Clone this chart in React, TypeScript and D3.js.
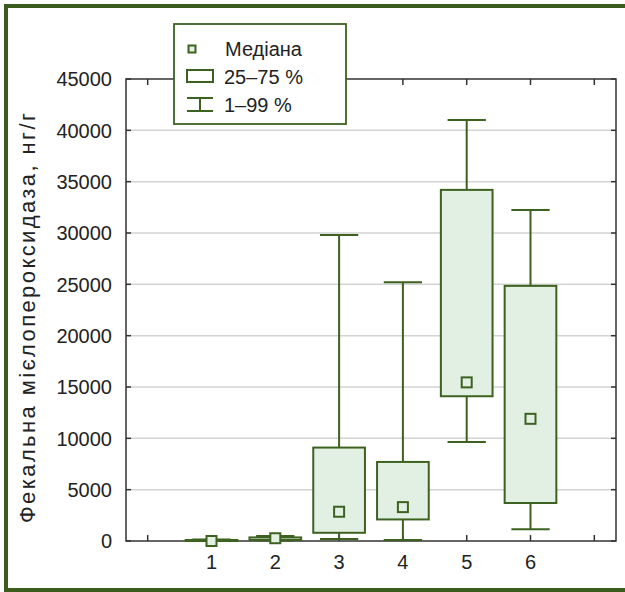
import React from "react";
import * as d3 from "d3";

// box plot data
const categories = ["1", "2", "3", "4", "5", "6"];
const p1 = [0, 40, 200, 100, 9650, 1150];
const q1 = [0, 100, 800, 2100, 14100, 3700];
const median = [0, 270, 2850, 3300, 15450, 11900];
const q3 = [100, 350, 9100, 7700, 34200, 24850];
const p99 = [150, 480, 29800, 25200, 41000, 32250];
const yTicks = [0, 5000, 10000, 15000, 20000, 25000, 30000, 35000, 40000, 45000];
const xTicks = [0, 1, 2, 3, 4, 5, 6, 7];
const legendLabels = ["Медіана", "25–75 %", "1–99 %"];

const W = 625;
const H = 592;
const margin = { left: 126, right: 9, top: 79, bottom: 51 };
const green = "#3d6220";
const fill = "#e2f0e4";
const font = "'Liberation Sans', Arial, sans-serif";

export default function App() {
  const x = d3
    .scaleLinear()
    .domain([-0.34, 7.34])
    .range([margin.left, W - margin.right]);
  const y = d3
    .scaleLinear()
    .domain([0, 45000])
    .range([H - margin.bottom, margin.top]);

  const x0 = x.range()[0];
  const x1 = x.range()[1];
  const y0 = y.range()[0];
  const y1 = y.range()[1];
  const boxW = 0.81 * (x(1) - x(0));
  const capW = 0.6 * (x(1) - x(0));

  return (
    <div style={{ position: "absolute", left: 0, top: 0 }}>
      <svg width={W} height={H} style={{ display: "block", background: "#fff" }}>
        {/* outer frame */}
        <rect x={6} y={6} width={720} height={584} fill="none" stroke="#3a5c1c" strokeWidth={4} />

        {/* grid */}
        {yTicks.slice(1, -1).map((t) => (
          <line key={"g" + t} x1={x0} x2={x1} y1={y(t)} y2={y(t)} stroke="#d3d3d3" strokeWidth={1.5} />
        ))}

        {/* axes box */}
        <rect x={x0} y={y1} width={x1 - x0} height={y0 - y1} fill="none" stroke="#333" strokeWidth={1.5} />
        {yTicks.map((t) => (
          <g key={"yt" + t}>
            <line x1={x0} x2={x0 + 5} y1={y(t)} y2={y(t)} stroke="#333" strokeWidth={1.5} />
            <line x1={x1 - 5} x2={x1} y1={y(t)} y2={y(t)} stroke="#333" strokeWidth={1.5} />
            <text x={112} y={y(t)} dy="0.36em" textAnchor="end" fontSize={20} fontFamily={font} fill="#222">
              {t}
            </text>
          </g>
        ))}
        {xTicks.map((t) => (
          <g key={"xt" + t}>
            <line x1={x(t)} x2={x(t)} y1={y0} y2={y0 - 6} stroke="#333" strokeWidth={1.5} />
            <line x1={x(t)} x2={x(t)} y1={y1} y2={y1 + 6} stroke="#333" strokeWidth={1.5} />
          </g>
        ))}
        {categories.map((c, i) => (
          <text key={"xl" + c} x={x(i + 1)} y={569} textAnchor="middle" fontSize={20} fontFamily={font} fill="#222">
            {c}
          </text>
        ))}

        <text
          transform={`translate(35,318) rotate(-90)`}
          textAnchor="middle"
          fontSize={22}
          fontFamily={font}
          fill="#222"
          textLength={410}
          lengthAdjust="spacing"
        >
          Фекальна мієлопероксидаза, нг/г
        </text>

        {/* boxes */}
        {categories.map((c, i) => {
          const cx = x(i + 1);
          return (
            <g key={"b" + c} stroke={green} strokeWidth={2}>
              <line x1={cx} x2={cx} y1={y(q3[i])} y2={y(p99[i])} />
              <line x1={cx} x2={cx} y1={y(q1[i])} y2={y(p1[i])} />
              <line x1={cx - capW / 2} x2={cx + capW / 2} y1={y(p99[i])} y2={y(p99[i])} />
              <line x1={cx - capW / 2} x2={cx + capW / 2} y1={y(p1[i])} y2={y(p1[i])} />
              <rect
                x={cx - boxW / 2}
                y={y(q3[i])}
                width={boxW}
                height={Math.max(y(q1[i]) - y(q3[i]), 0.5)}
                fill={fill}
              />
              <rect x={cx - 5} y={y(median[i]) - 5} width={10} height={10} fill={fill} />
            </g>
          );
        })}

        {/* legend */}
        <rect x={174} y={24} width={172} height={100} fill="#fff" stroke={green} strokeWidth={1.8} />
        <rect x={188.5} y={45.5} width={7} height={7} fill={fill} stroke={green} strokeWidth={2} />
        <rect x={187} y={70} width={26} height={12} fill="#fff" stroke={green} strokeWidth={2} />
        <g stroke={green} strokeWidth={2}>
          <line x1={187} x2={213} y1={98} y2={98} />
          <line x1={187} x2={213} y1={111} y2={111} />
          <line x1={200} x2={200} y1={98} y2={111} />
        </g>
        {legendLabels.map((l, i) => (
          <text key={l} x={i === 0 ? 225 : 224} y={[49, 77, 105][i]} dy="0.36em" fontSize={20} fontFamily={font} fill="#222">
            {l}
          </text>
        ))}
      </svg>
    </div>
  );
}
